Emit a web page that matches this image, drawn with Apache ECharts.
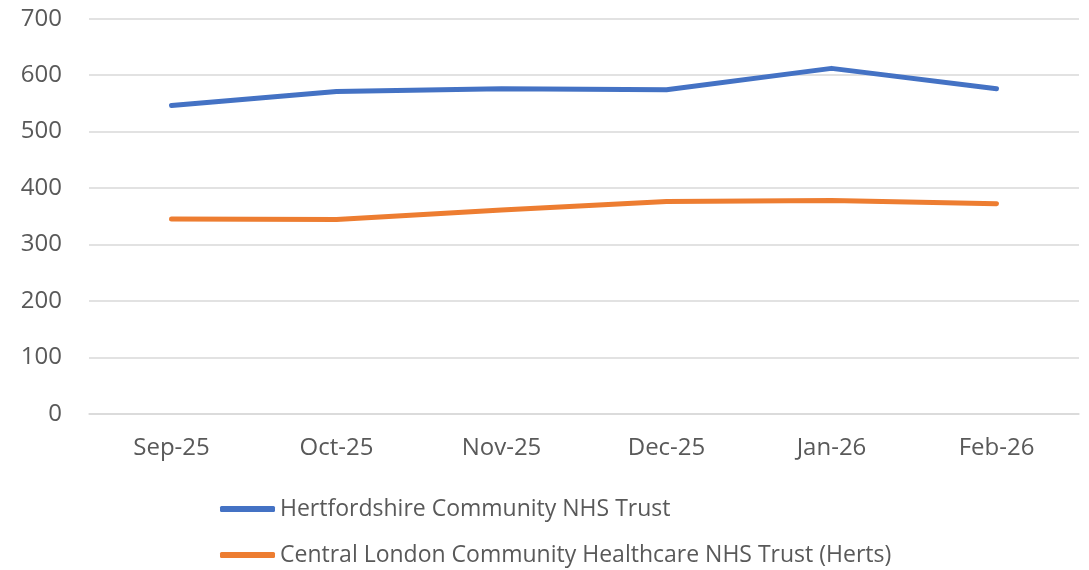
<!DOCTYPE html>
<html><head><meta charset="utf-8">
<script src="https://cdn.jsdelivr.net/npm/echarts@6/dist/echarts.min.js"></script>
<style>html,body{margin:0;padding:0;background:#fff}#c{width:1089px;height:570px}</style>
</head><body><div id="c"></div>
<script>
const categories = ['Sep-25','Oct-25','Nov-25','Dec-25','Jan-26','Feb-26'];
const hertsName = 'Hertfordshire Community NHS Trust';
const hertsValues = [546, 571, 576, 574, 612, 576];
const clchName = 'Central London Community Healthcare NHS Trust (Herts)';
const clchValues = [345, 344, 361, 376, 378, 372];
const yTicks = {min: 0, max: 700, interval: 100};

const font = 'Open Sans';
const chart = echarts.init(document.getElementById('c'), null, {renderer: 'canvas'});
chart.setOption({
  animation: false,
  backgroundColor: '#fff',
  grid: {left: 89, right: 10, top: 18.7, bottom: 156.3, containLabel: false},
  xAxis: {
    type: 'category', data: categories, boundaryGap: true,
    axisLine: {show: true, lineStyle: {color: '#d9d9d9', width: 1.5}},
    axisTick: {show: false},
    axisLabel: {color: '#595959', fontFamily: font, fontSize: 24, margin: 22}
  },
  yAxis: {
    type: 'value', min: yTicks.min, max: yTicks.max, interval: yTicks.interval,
    axisLine: {show: false}, axisTick: {show: false},
    splitLine: {lineStyle: {color: '#d9d9d9', width: 1.5}},
    axisLabel: {color: '#595959', fontFamily: font, fontSize: 24, margin: 27}
  },
  legend: {
    orient: 'vertical', left: 220, top: 494, padding: 0, height: 76,
    itemWidth: 55, itemHeight: 6, itemGap: 16, icon: 'roundRect',
    textStyle: {color: '#595959', fontFamily: font, fontSize: 23, lineHeight: 30, padding: [0,0,0,0]},
    data: [hertsName, clchName]
  },
  series: [
    {name: hertsName, type: 'line', data: hertsValues, symbol: 'none',
     lineStyle: {color: '#4472C4', width: 5, cap: 'round', join: 'round'}, itemStyle: {color: '#4472C4'}},
    {name: clchName, type: 'line', data: clchValues, symbol: 'none',
     lineStyle: {color: '#ED7D31', width: 5, cap: 'round', join: 'round'}, itemStyle: {color: '#ED7D31'}}
  ]
});
</script></body></html>
